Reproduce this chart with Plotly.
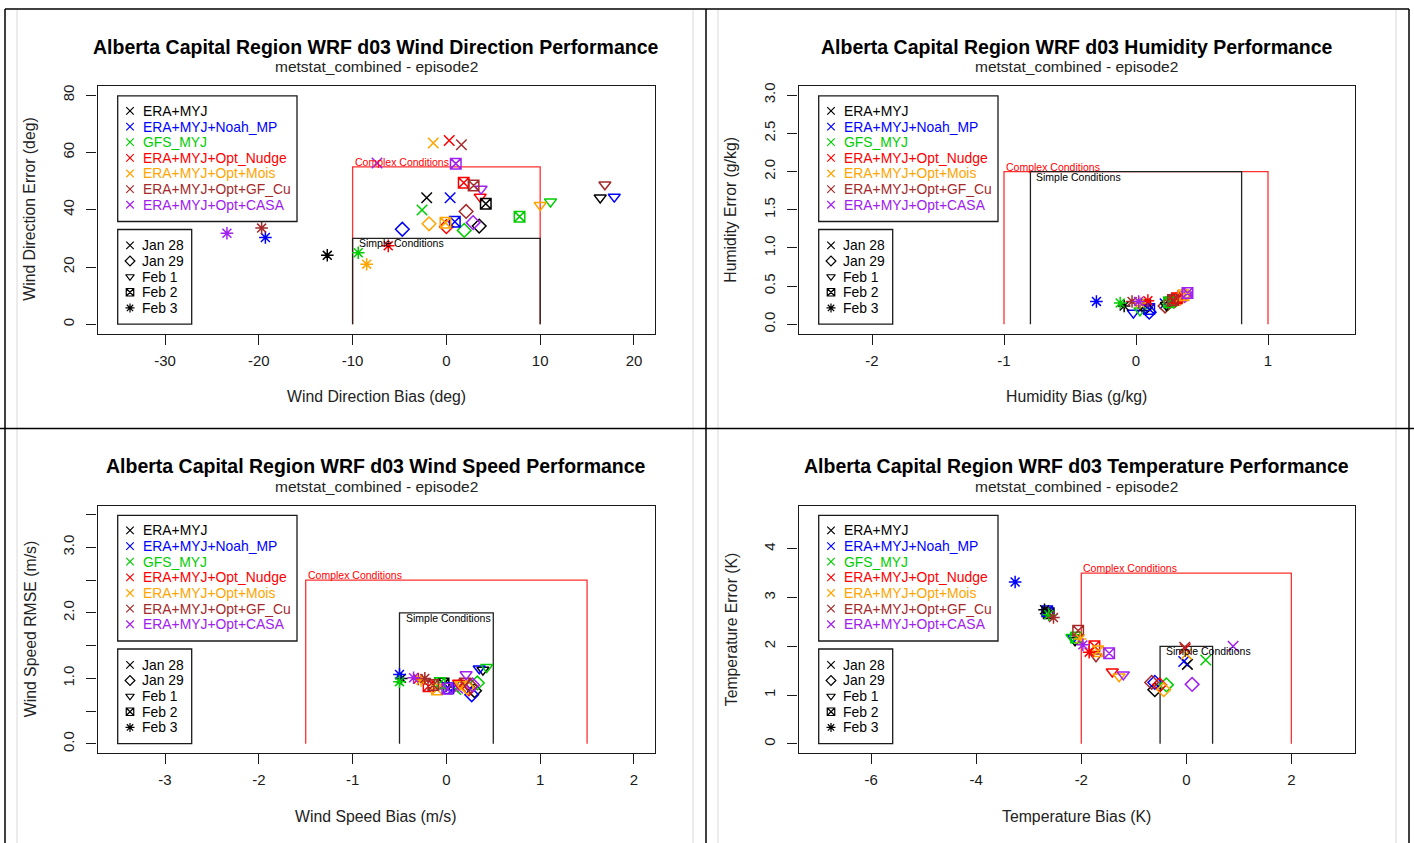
import plotly.graph_objects as go

W, H = 1414, 843
FONT = "Liberation Sans, Arial, Helvetica, sans-serif"

# ---------------- data ----------------
models = ["ERA+MYJ", "ERA+MYJ+Noah_MP", "GFS_MYJ", "ERA+MYJ+Opt_Nudge",
          "ERA+MYJ+Opt+Mois", "ERA+MYJ+Opt+GF_Cu", "ERA+MYJ+Opt+CASA"]
model_colors = ["#000000", "#0000FF", "#00CD00", "#FF0000", "#FFA500", "#A52A2A", "#A020F0"]
dates = ["Jan 28", "Jan 29", "Feb 1", "Feb 2", "Feb 3"]
date_symbols = ["x-thin-open", "diamond-open", "triangle-down-open", "square-x-open", "asterisk-open"]

# rows = dates, columns = models
wdir_bias = [
    [-2.1, 0.4, -2.6, 0.3, -1.4, 1.6, -7.4],
    [3.5, -4.7, 1.9, 0.0, -1.85, 2.1, 2.85],
    [16.4, 17.9, 11.1, 3.6, 10.0, 16.9, 3.7],
    [4.2, 0.9, 7.8, 1.85, -0.1, 2.9, 1.0],
    [-12.7, -19.3, -9.4, -6.2, -8.5, -19.7, -23.4],
]
wdir_error = [
    [44.2, 44.2, 39.9, 64.2, 63.3, 62.7, 56.3],
    [34.3, 33.2, 32.8, 34.1, 35.1, 39.4, 35.5],
    [44.2, 44.5, 42.8, 44.5, 41.6, 48.8, 47.3],
    [42.1, 35.8, 37.6, 49.4, 35.5, 48.5, 56.1],
    [24.1, 30.3, 25.0, 27.4, 21.0, 33.6, 31.8],
]
hum_bias = [
    [0.25, 0.22, 0.27, 0.30, 0.33, 0.26, 0.35],
    [0.07, 0.10, 0.24, 0.29, 0.33, 0.22, 0.37],
    [0.23, -0.02, 0.03, 0.30, 0.34, 0.25, 0.38],
    [0.07, 0.10, 0.25, 0.31, 0.36, 0.28, 0.39],
    [-0.09, -0.30, -0.12, 0.09, 0.03, -0.03, 0.02],
]
hum_error = [
    [0.28, 0.27, 0.30, 0.32, 0.35, 0.29, 0.37],
    [0.22, 0.16, 0.27, 0.31, 0.34, 0.24, 0.38],
    [0.25, 0.15, 0.18, 0.33, 0.36, 0.28, 0.39],
    [0.25, 0.20, 0.29, 0.34, 0.38, 0.32, 0.41],
    [0.24, 0.30, 0.28, 0.31, 0.28, 0.30, 0.30],
]
wspd_bias = [
    [0.05, 0.08, 0.10, 0.18, 0.15, 0.20, 0.12],
    [0.30, 0.27, 0.33, 0.24, 0.22, 0.26, 0.28],
    [0.39, 0.35, 0.43, 0.13, 0.15, 0.20, 0.21],
    [-0.03, 0.02, -0.07, -0.19, -0.10, -0.14, 0.01],
    [-0.48, -0.50, -0.50, -0.30, -0.27, -0.23, -0.35],
]
wspd_rmse = [
    [0.88, 0.86, 0.83, 0.90, 0.88, 0.92, 0.85],
    [0.81, 0.75, 0.93, 0.84, 0.86, 0.88, 0.90],
    [1.13, 1.15, 1.17, 0.93, 0.91, 0.96, 1.06],
    [0.92, 0.85, 0.93, 0.88, 0.83, 0.90, 0.84],
    [1.00, 1.06, 0.95, 0.99, 0.97, 1.00, 1.01],
]
temp_bias = [
    [0.02, -0.05, 0.37, -0.02, 0.00, -0.03, 0.89],
    [-0.60, -0.60, -0.38, -0.51, -0.43, -0.66, 0.11],
    [-2.12, -2.15, -2.18, -1.41, -1.28, -1.72, -1.20],
    [-2.62, -2.65, -2.10, -1.75, -1.68, -2.06, -1.47],
    [-2.70, -3.26, -2.62, -1.85, -2.02, -2.53, -1.97],
]
temp_error = [
    [1.63, 1.69, 1.72, 1.95, 1.84, 1.98, 2.00],
    [1.11, 1.26, 1.21, 1.21, 1.11, 1.26, 1.22],
    [2.12, 2.18, 2.19, 1.48, 1.38, 1.79, 1.42],
    [2.68, 2.72, 2.18, 2.00, 1.90, 2.32, 1.86],
    [2.75, 3.32, 2.65, 1.88, 2.15, 2.59, 2.03],
]

# performance benchmark zones: (x_low, x_high, y_top)
wdir_complex, wdir_simple = (-10, 10, 55), (-10, 10, 30)
hum_complex, hum_simple = (-1, 1, 2.0), (-0.8, 0.8, 2.0)
wspd_complex, wspd_simple = (-1.5, 1.5, 2.5), (-0.5, 0.5, 2.0)
temp_complex, temp_simple = (-2, 2, 3.5), (-0.5, 0.5, 2.0)

wdir_xticks = [-30, -20, -10, 0, 10, 20]
wdir_yticks = [0, 20, 40, 60, 80]
wdir_yticktext = ["0", "20", "40", "60", "80"]
hum_xticks = [-2, -1, 0, 1]
hum_yticks = [0, 0.5, 1.0, 1.5, 2.0, 2.5, 3.0]
hum_yticktext = ["0.0", "0.5", "1.0", "1.5", "2.0", "2.5", "3.0"]
wspd_xticks = [-3, -2, -1, 0, 1, 2]
wspd_yticks = [0, 0.5, 1.0, 1.5, 2.0, 2.5, 3.0, 3.5]
wspd_yticktext = ["0.0", "", "1.0", "", "2.0", "", "3.0", ""]
temp_xticks = [-6, -4, -2, 0, 2]
temp_yticks = [0, 1, 2, 3, 4]
temp_yticktext = ["0", "1", "2", "3", "4"]

subtitle = "metstat_combined - episode2"

panels = [
    dict(title="Alberta Capital Region WRF d03 Wind Direction Performance",
         xlab="Wind Direction Bias (deg)", ylab="Wind Direction Error (deg)",
         bx=wdir_bias, by=wdir_error, cz=wdir_complex, sz=wdir_simple,
         xt=wdir_xticks, yt=wdir_yticks, ytt=wdir_yticktext,
         xr=[-37.2, 22.2], yr=[-3.2, 83.2], box=(97.5, 83.3, 654.6, 331.7)),
    dict(title="Alberta Capital Region WRF d03 Humidity Performance",
         xlab="Humidity Bias (g/kg)", ylab="Humidity Error (g/kg)",
         bx=hum_bias, by=hum_error, cz=hum_complex, sz=hum_simple,
         xt=hum_xticks, yt=hum_yticks, ytt=hum_yticktext,
         xr=[-2.557, 1.656], yr=[-0.12, 3.12], box=(798.5, 83.3, 1354.6, 331.7)),
    dict(title="Alberta Capital Region WRF d03 Wind Speed Performance",
         xlab="Wind Speed Bias (m/s)", ylab="Wind Speed RMSE (m/s)",
         bx=wspd_bias, by=wspd_rmse, cz=wspd_complex, sz=wspd_simple,
         xt=wspd_xticks, yt=wspd_yticks, ytt=wspd_yticktext,
         xr=[-3.72, 2.22], yr=[-0.14, 3.64], box=(97.5, 504.3, 654.6, 752.7)),
    dict(title="Alberta Capital Region WRF d03 Temperature Performance",
         xlab="Temperature Bias (K)", ylab="Temperature Error (K)",
         bx=temp_bias, by=temp_error, cz=temp_complex, sz=temp_simple,
         xt=temp_xticks, yt=temp_yticks, ytt=temp_yticktext,
         xr=[-7.385, 3.204], yr=[-0.188, 4.888], box=(798.5, 504.3, 1354.6, 752.7)),
]

AXC = "#1a1a1a"
fig = go.Figure()
layout = dict(width=W, height=H, margin=dict(l=0, r=0, t=0, b=0),
              paper_bgcolor="white", plot_bgcolor="rgba(0,0,0,0)",
              showlegend=False, font=dict(family=FONT, color="black"))
annotations, shapes = [], []

# overlay axis in pixel units (for page furniture and legends)
layout["xaxis5"] = dict(domain=[0, 1], range=[0, W], visible=False, fixedrange=True, anchor="y5")
layout["yaxis5"] = dict(domain=[0, 1], range=[H, 0], visible=False, fixedrange=True, anchor="x5")


def txt(x, y, text, size, color="black", xanchor="center", yanchor="middle", angle=0, bold=False):
    if bold:
        text = "<b>" + text + "</b>"
    annotations.append(dict(x=x, y=y, xref="x5", yref="y5", text=text, showarrow=False,
                            xanchor=xanchor, yanchor=yanchor, textangle=angle,
                            font=dict(family=FONT, size=size, color=color)))


MARK = dict(size=10.5, line=dict(width=1.5))

for i, p in enumerate(panels, start=1):
    L, T, R, B = p["box"]
    xa, ya = f"x{i}", f"y{i}"
    axcommon = dict(showline=True, mirror=True, linecolor=AXC, linewidth=1.4,
                    ticks="outside", ticklen=10, tickwidth=1.2, tickcolor=AXC,
                    showgrid=False, zeroline=False, fixedrange=True,
                    tickfont=dict(family=FONT, size=15, color=AXC))
    layout[f"xaxis{i}"] = dict(axcommon, domain=[L / W, R / W], range=p["xr"], anchor=ya,
                               tickmode="array", tickvals=p["xt"],
                               ticktext=[str(v) for v in p["xt"]], ticklabelstandoff=3)
    layout[f"yaxis{i}"] = dict(axcommon, domain=[1 - B / H, 1 - T / H], range=p["yr"], anchor=xa,
                               tickmode="array", tickvals=p["yt"], ticktext=p["ytt"],
                               tickangle=-90, ticklabelstandoff=6)

    # benchmark zones
    for (x0, x1, yt), col in ((p["cz"], "#FF3030"), (p["sz"], "#222222")):
        fig.add_trace(go.Scatter(x=[x0, x0, x1, x1], y=[0, yt, yt, 0], mode="lines",
                                 line=dict(color=col, width=1.3), xaxis=xa, yaxis=ya,
                                 hoverinfo="skip"))
    cx0, cx1, cyt = p["cz"]
    sx0, sx1, syt = p["sz"]
    annotations.append(dict(x=cx0, y=cyt, xref=xa, yref=ya, text="Complex Conditions",
                            showarrow=False, xanchor="left", yanchor="middle", yshift=5,
                            font=dict(family=FONT, size=10.5, color="#FF0000")))
    annotations.append(dict(x=sx0, y=syt, xref=xa, yref=ya, text="Simple Conditions",
                            showarrow=False, xanchor="left", yanchor="middle", yshift=-5, xshift=4,
                            font=dict(family=FONT, size=10.5, color="black")))

    # data points
    for d in range(len(dates)):
        fig.add_trace(go.Scatter(x=p["bx"][d], y=p["by"][d], mode="markers",
                                 marker=dict(MARK, symbol=date_symbols[d], color=model_colors),
                                 xaxis=xa, yaxis=ya, name=dates[d]))

    # titles
    cxm = (L + R) / 2
    txt(cxm, T - 39.5, p["title"], 19.5, bold=True)
    txt(cxm, T - 19.5, subtitle, 15.5, color="#222")
    txt(cxm, B + 63.5, p["xlab"], 15.8, color="#222")
    txt(L - 67.5, (T + B) / 2, p["ylab"], 15.8, color="#222", angle=-90)

    # legend 1 (models)
    shapes.append(dict(type="rect", xref="x5", yref="y5", x0=L + 20.2, x1=L + 199.5,
                       y0=T + 10, y1=T + 136, line=dict(color=AXC, width=1.3)))
    ly = [T + 25 + k * 15.7 for k in range(len(models))]
    fig.add_trace(go.Scatter(x=[L + 32.5] * len(models), y=ly, mode="markers",
                             marker=dict(size=7.5, line=dict(width=1.2), symbol="x-thin-open",
                                         color=model_colors),
                             xaxis="x5", yaxis="y5", hoverinfo="skip"))
    for k, m in enumerate(models):
        txt(L + 43.5, ly[k], m, 13.9, color=model_colors[k], xanchor="left")

    # legend 2 (dates)
    shapes.append(dict(type="rect", xref="x5", yref="y5", x0=L + 20.2, x1=L + 94.2,
                       y0=B - 104.4, y1=B - 9.4, line=dict(color=AXC, width=1.3)))
    ly2 = [B - 88.5 + k * 15.7 for k in range(len(dates))]
    fig.add_trace(go.Scatter(x=[L + 32.5] * len(dates), y=ly2, mode="markers",
                             marker=dict(size=7.5, line=dict(width=1.2), symbol=date_symbols,
                                         color="black"),
                             xaxis="x5", yaxis="y5", hoverinfo="skip"))
    for k, dname in enumerate(dates):
        txt(L + 42.5, ly2[k], dname, 13.9, xanchor="left")

# page / table borders
def line(x0, y0, x1, y1, col="black", w=1.5):
    shapes.append(dict(type="line", xref="x5", yref="y5", x0=x0, y0=y0, x1=x1, y1=y1,
                       line=dict(color=col, width=w)))

for xg in (17, 693, 718, 1396):
    line(xg, 7, xg, H, col="#d8d8d8", w=1)
line(5, 6, 1409, 6)
line(0, 427, W, 427)
line(5, 6, 5, H)
line(706, 6, 706, H)
line(1409, 6, 1409, H)

layout["annotations"] = annotations
layout["shapes"] = shapes
fig.update_layout(**layout)
fig.write_html("out.html")
